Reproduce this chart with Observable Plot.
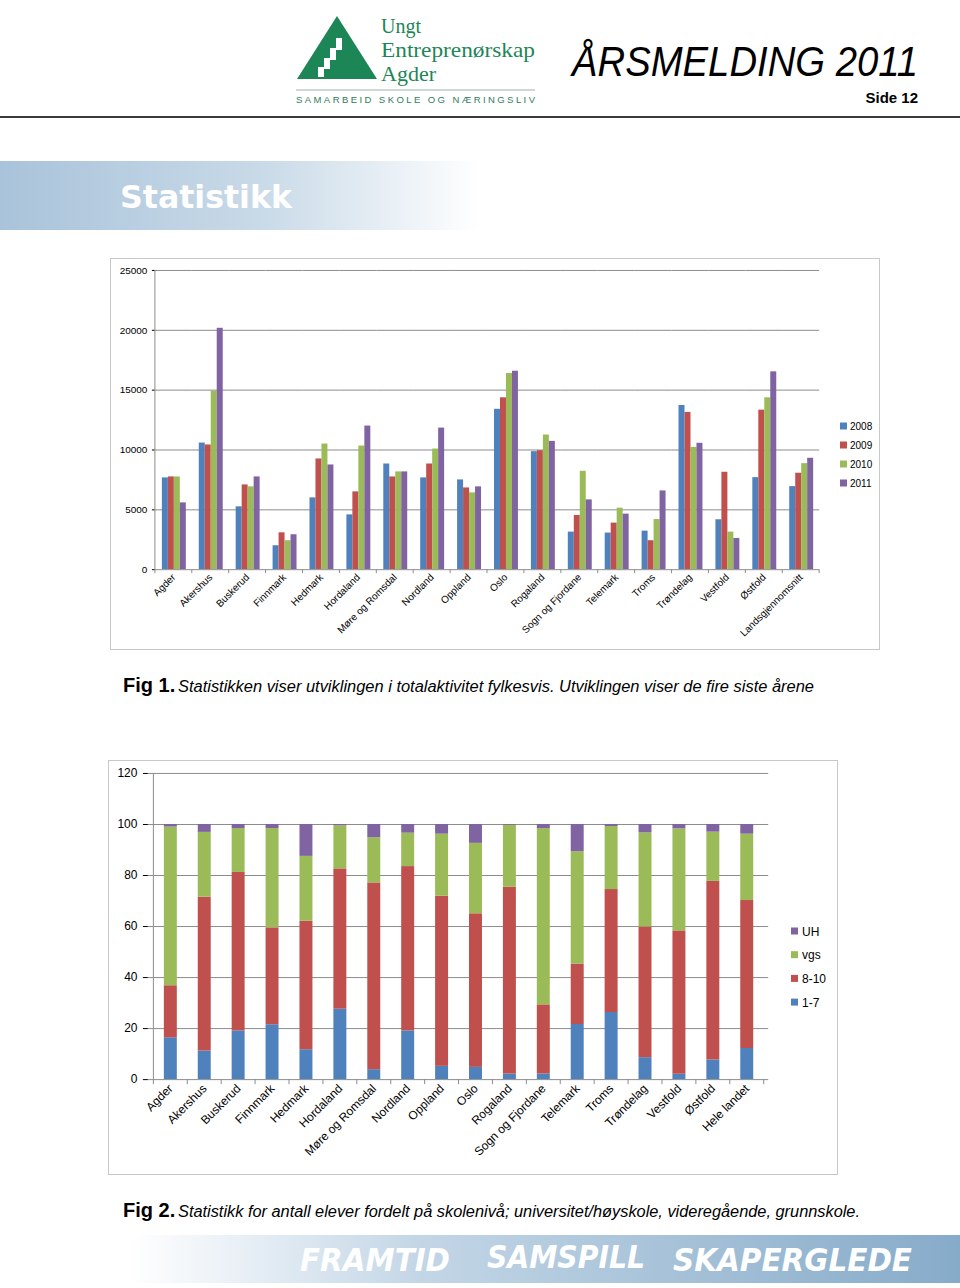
<!DOCTYPE html>
<html>
<head>
<meta charset="utf-8">
<script src="https://cdn.jsdelivr.net/npm/d3@7"></script>
<script src="https://cdn.jsdelivr.net/npm/@observablehq/plot@0.6"></script>
<style>
  html, body { margin: 0; padding: 0; background: #ffffff; }
  #page { position: relative; width: 960px; height: 1288px; overflow: hidden; font-family: "Liberation Sans", Arial, sans-serif; }
  #deco { position: absolute; left: 0; top: 0; }
  .box { position: absolute; border: 1px solid #c8c8c8; box-sizing: border-box; background: #fff; }
  .box svg { position: absolute; left: -1px; top: -1px; }
</style>
</head>
<body>
<div id="page">
  <svg id="deco" width="960" height="1288" xmlns="http://www.w3.org/2000/svg">
    <defs>
      <linearGradient id="gBanner" x1="0" x2="480" y1="0" y2="0" gradientUnits="userSpaceOnUse">
        <stop offset="0" stop-color="#a9c3da"/>
        <stop offset="0.55" stop-color="#c9dae8"/>
        <stop offset="1" stop-color="#ffffff"/>
      </linearGradient>
      <linearGradient id="gFoot" x1="130" x2="960" y1="0" y2="0" gradientUnits="userSpaceOnUse">
        <stop offset="0" stop-color="#ffffff"/>
        <stop offset="0.35" stop-color="#c3d6e6"/>
        <stop offset="1" stop-color="#86abc9"/>
      </linearGradient>
    </defs>
    <!-- logo -->
    <g id="logo">
      <polygon points="297,79 337,16 377,79" fill="#1d8657"/>
      <polygon points="336,38 342,38 342,50 336,50" fill="#ffffff"/>
      <polygon points="330,48 336,48 336,60 330,60" fill="#ffffff"/>
      <polygon points="324,58 330,58 330,69 324,69" fill="#ffffff"/>
      <polygon points="318,67 324,67 324,77 318,77" fill="#ffffff"/>
      <text x="381" y="33" font-family="Liberation Serif, serif" font-size="21" fill="#1d8657" textLength="40" lengthAdjust="spacingAndGlyphs">Ungt</text>
      <text x="381" y="57" font-family="Liberation Serif, serif" font-size="21" fill="#1d8657" textLength="154" lengthAdjust="spacingAndGlyphs">Entreprenørskap</text>
      <text x="381" y="81" font-family="Liberation Serif, serif" font-size="21" fill="#1d8657" textLength="55" lengthAdjust="spacingAndGlyphs">Agder</text>
      <line x1="296" x2="535" y1="90" y2="90" stroke="#9fb3aa" stroke-width="1.2"/>
      <text x="296" y="103" font-family="Liberation Sans, sans-serif" font-size="9.5" fill="#2f7d5c" textLength="239" lengthAdjust="spacing">SAMARBEID SKOLE OG NÆRINGSLIV</text>
    </g>
    <text x="572" y="76" font-family="Liberation Sans, sans-serif" font-style="italic" font-size="43" fill="#000" textLength="346" lengthAdjust="spacingAndGlyphs">ÅRSMELDING 2011</text>
    <text x="918" y="103" text-anchor="end" font-family="Liberation Sans, sans-serif" font-weight="bold" font-size="15" fill="#000">Side 12</text>
    <line x1="0" x2="960" y1="117" y2="117" stroke="#3a3a3a" stroke-width="2"/>
    <!-- banner -->
    <rect x="0" y="161" width="960" height="69" fill="url(#gBanner)"/>
    <text x="120" y="208" font-family="DejaVu Sans, Verdana, sans-serif" font-weight="bold" font-size="32" fill="#ffffff" textLength="172" lengthAdjust="spacingAndGlyphs">Statistikk</text>
    <!-- captions -->
    <text x="123" y="692" font-family="Liberation Sans, sans-serif" font-weight="bold" font-size="20" fill="#000">Fig 1.</text>
    <text x="178" y="692" font-family="Liberation Sans, sans-serif" font-style="italic" font-size="16" fill="#000" textLength="636" lengthAdjust="spacingAndGlyphs">Statistikken viser utviklingen i totalaktivitet fylkesvis. Utviklingen viser de fire  siste årene</text>
    <text x="123" y="1217" font-family="Liberation Sans, sans-serif" font-weight="bold" font-size="20" fill="#000">Fig 2.</text>
    <text x="178" y="1217" font-family="Liberation Sans, sans-serif" font-style="italic" font-size="16" fill="#000" textLength="682" lengthAdjust="spacingAndGlyphs">Statistikk for antall elever fordelt på skolenivå; universitet/høyskole, videregående, grunnskole.</text>
    <!-- footer -->
    <rect x="130" y="1235" width="830" height="48" fill="url(#gFoot)"/>
    <g font-family="DejaVu Sans, sans-serif" font-weight="bold" font-style="italic" font-size="32" fill="#ffffff">
      <text x="300" y="1271" textLength="150" lengthAdjust="spacingAndGlyphs">FRAMTID</text>
      <text x="487" y="1268" textLength="158" lengthAdjust="spacingAndGlyphs">SAMSPILL</text>
      <text x="673" y="1271" textLength="239" lengthAdjust="spacingAndGlyphs">SKAPERGLEDE</text>
    </g>
    <g id="legend1" font-family="Liberation Sans, sans-serif" font-size="10" fill="#000"></g>
    <g id="legend2" font-family="Liberation Sans, sans-serif" font-size="12" fill="#000"></g>
  </svg>
  <div class="box" id="box1" style="left:110px;top:258px;width:770px;height:392px;"></div>
  <div class="box" id="box2" style="left:108px;top:760px;width:730px;height:415px;"></div>
</div>
<script>
// ---------- Data: Fig 1 (total activity per county, 2008-2011) ----------
const regions1 = ["Agder","Akershus","Buskerud","Finnmark","Hedmark","Hordaland","Møre og Romsdal","Nordland","Oppland","Oslo","Rogaland","Sogn og Fjordane","Telemark","Troms","Trøndelag","Vestfold","Østfold","Landsgjennomsnitt"];
const years = ["2008","2009","2010","2011"];
const v2008 = [7670,10580,5250,2000,6000,4580,8830,7670,7500,13400,9860,3140,3060,3220,13720,4170,7690,6940];
const v2009 = [7750,10420,7080,3080,9250,6500,7750,8830,6830,14360,9940,4530,3890,2420,13140,8140,13330,8060];
const v2010 = [7750,14920,6920,2420,10500,10330,8170,10080,6420,16390,11250,8220,5140,4190,10220,3140,14360,8860];
const v2011 = [5580,20170,7750,2920,8750,12000,8170,11830,6920,16580,10720,5830,4640,6580,10560,2610,16530,9310];
const yTicks1 = [0,5000,10000,15000,20000,25000];

// ---------- Data: Fig 2 (share of pupils by school level, %) ----------
const regions2 = ["Agder","Akershus","Buskerud","Finnmark","Hedmark","Hordaland","Møre og Romsdal","Nordland","Oppland","Oslo","Rogaland","Sogn og Fjordane","Telemark","Troms","Trøndelag","Vestfold","Østfold","Hele landet"];
const levels = ["1-7","8-10","vgs","UH"];
const s1_7  = [16.4,11.2,19.1,21.5,11.7,27.6,3.9,19.1,5.2,4.8,2.2,2.2,21.6,26.3,8.6,2.1,7.7,12.2];
const s8_10 = [20.4,60.3,62.1,38.0,50.4,55.0,73.2,64.4,66.7,60.2,73.2,27.1,23.7,48.2,51.2,56.2,70.0,58.0];
const sVgs  = [62.2,25.4,17.2,38.9,25.4,16.9,17.7,13.1,24.3,27.6,24.3,69.1,44.0,24.7,36.9,40.0,19.3,26.0];
const sUH   = [1.0,3.1,1.6,1.6,12.5,0.5,5.2,3.4,3.8,7.4,0.3,1.6,10.7,0.8,3.3,1.7,3.0,3.8];
const yTicks2 = [0,20,40,60,80,100,120];

const colors = ["#4F81BD","#C0504D","#9BBB59","#8064A2"];
const gridColor = "#8c8c8c";

// ---------- Chart 1 ----------
const series1 = [v2008, v2009, v2010, v2011];
const data1 = years.flatMap((yr, j) => regions1.map((r, i) => ({region: r, year: yr, value: series1[j][i]})));

const chart1 = Plot.plot({
  width: 770, height: 392,
  marginLeft: 43, marginRight: 58, marginTop: 12, marginBottom: 80,
  style: {fontFamily: "Liberation Sans, Arial, sans-serif", fontSize: "10px", color: "#000", background: "transparent"},
  fx: {domain: regions1, padding: 0, label: null, axis: "bottom", tickRotate: -45, tickSize: 0, tickPadding: 6},
  x: {domain: years, paddingInner: 0, paddingOuter: 0.655, axis: null},
  y: {domain: [0, 25000], ticks: yTicks1, tickFormat: d => String(d), label: null, tickSize: 3, tickPadding: 5},
  color: {domain: years, range: colors},
  marks: [
    Plot.ruleY(yTicks1.slice(1), {stroke: gridColor, strokeWidth: 1}),
    Plot.barY(data1, {fx: "region", x: "year", y: "value", fill: "year"}),
    Plot.ruleY([0], {stroke: gridColor, strokeWidth: 1})
  ]
});
document.getElementById("box1").appendChild(chart1);

// axis line and category boundary ticks, placed from the library's scales
(function() {
  const fx = chart1.scale("fx"), y = chart1.scale("y");
  const g = d3.select(chart1).append("g").attr("stroke", gridColor).attr("stroke-width", 1);
  const y0 = y.apply(0), yTop = y.apply(25000);
  const left = fx.apply(regions1[0]);
  g.append("line").attr("x1", left).attr("x2", left).attr("y1", yTop).attr("y2", y0 + 4);
  for (const r of regions1) {
    const e = fx.apply(r) + fx.step;
    g.append("line").attr("x1", e).attr("x2", e).attr("y1", y0).attr("y2", y0 + 4);
  }
})();

// ---------- Chart 2 ----------
const series2 = [s1_7, s8_10, sVgs, sUH];
const data2 = levels.flatMap((lv, j) => regions2.map((r, i) => ({region: r, level: lv, value: series2[j][i]})));

const chart2 = Plot.plot({
  width: 730, height: 415,
  marginLeft: 40, marginRight: 68, marginTop: 13, marginBottom: 95,
  style: {fontFamily: "Liberation Sans, Arial, sans-serif", fontSize: "12px", color: "#000", background: "transparent"},
  x: {domain: regions2, paddingInner: 0.624, paddingOuter: 0.312, label: null, tickRotate: -45, tickSize: 0, tickPadding: 7},
  y: {domain: [0, 120], ticks: yTicks2, label: null, tickSize: 5, tickPadding: 6},
  color: {domain: levels, range: colors},
  marks: [
    Plot.ruleY(yTicks2.slice(1), {stroke: gridColor, strokeWidth: 1}),
    Plot.barY(data2, {x: "region", y: "value", fill: "level"}),
    Plot.ruleY([0], {stroke: gridColor, strokeWidth: 1})
  ]
});
document.getElementById("box2").appendChild(chart2);

(function() {
  const x = chart2.scale("x"), y = chart2.scale("y");
  const g = d3.select(chart2).append("g").attr("stroke", gridColor).attr("stroke-width", 1);
  const y0 = y.apply(0), yTop = y.apply(120);
  const half = x.bandwidth / 2, step = x.step;
  const left = x.apply(regions2[0]) + half - step / 2;
  g.append("line").attr("x1", left).attr("x2", left).attr("y1", yTop).attr("y2", y0 + 5);
  for (const r of regions2) {
    const e = x.apply(r) + half + step / 2;
    g.append("line").attr("x1", e).attr("x2", e).attr("y1", y0).attr("y2", y0 + 5);
  }
})();

// ---------- Legends ----------
(function() {
  const l1 = d3.select("#legend1");
  years.forEach((yr, j) => {
    const cy = 426 + j * 19;
    l1.append("rect").attr("x", 840).attr("y", cy - 3.5).attr("width", 7).attr("height", 7).attr("fill", colors[j]);
    l1.append("text").attr("x", 850).attr("y", cy + 3.5).text(yr);
  });
  const l2 = d3.select("#legend2");
  const order = [3, 2, 1, 0];
  order.forEach((j, k) => {
    const cy = 931 + k * 23.7;
    l2.append("rect").attr("x", 791).attr("y", cy - 3.5).attr("width", 7).attr("height", 7).attr("fill", colors[j]);
    l2.append("text").attr("x", 802).attr("y", cy + 4.5).text(levels[j]);
  });
  const page = document.getElementById("page");
  const ov = document.createElementNS("http://www.w3.org/2000/svg", "svg");
  ov.setAttribute("width", 960); ov.setAttribute("height", 1288);
  ov.style.position = "absolute"; ov.style.left = "0"; ov.style.top = "0"; ov.style.pointerEvents = "none";
  ov.appendChild(document.getElementById("legend1"));
  ov.appendChild(document.getElementById("legend2"));
  page.appendChild(ov);
})();
</script>
</body>
</html>
